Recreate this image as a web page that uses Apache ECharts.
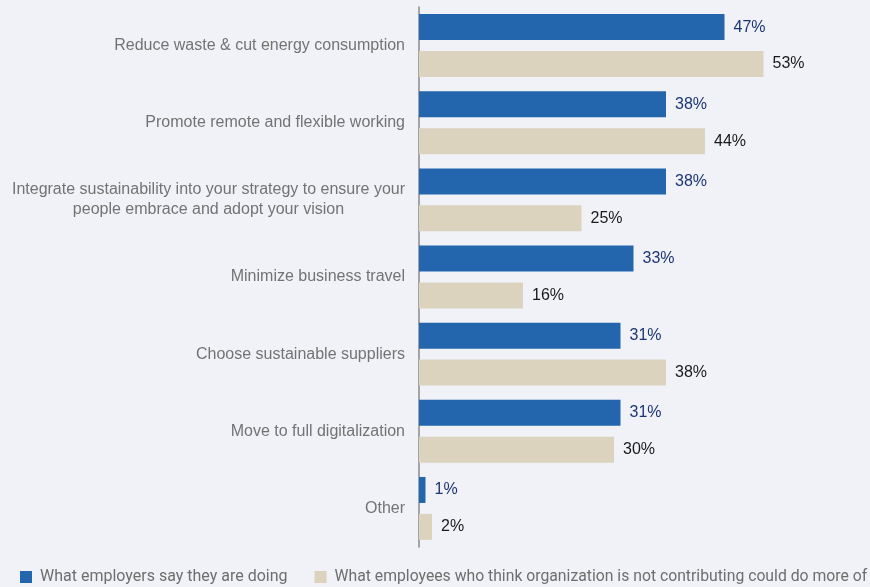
<!DOCTYPE html>
<html>
<head>
<meta charset="utf-8">
<script src="https://cdn.jsdelivr.net/npm/echarts@6/dist/echarts.min.js"></script>
<style>
  html, body { margin: 0; padding: 0; background: #f0f2f7; }
  #chart { width: 870px; height: 587px; }
</style>
</head>
<body>
<div id="chart"></div>
<script>
// Sustainability actions: employer vs. employee view (percent)
var categories = [
  'Reduce waste & cut energy consumption',
  'Promote remote and flexible working',
  'Integrate sustainability into your strategy to ensure your\npeople embrace and adopt your vision',
  'Minimize business travel',
  'Choose sustainable suppliers',
  'Move to full digitalization',
  'Other'
];
var employersDoing = [47, 38, 38, 33, 31, 31, 1];
var employeesWant = [53, 44, 25, 16, 38, 30, 2];
var seriesNames = [
  'What employers say they are doing',
  'What employees who think organization is not contributing could do more of'
];

var chart = echarts.init(document.getElementById('chart'));
chart.setOption({
  backgroundColor: '#f0f2f7',
  animation: false,
  textStyle: { fontFamily: 'Liberation Sans, Arial, sans-serif' },
  grid: { left: 419, top: 7, width: 390, height: 540 },
  legend: {
    left: 20, top: 569, width: 860, padding: 0,
    itemWidth: 12, itemHeight: 12, itemGap: 27,
    icon: 'rect',
    textStyle: { color: '#6e6e6e', fontSize: 16, fontFamily: 'Roboto, sans-serif', padding: [0, 0, 0, 3] },
    data: [
      { name: seriesNames[0] },
      { name: seriesNames[1], textStyle: { fontSize: 15.75 } }
    ]
  },
  xAxis: {
    type: 'value', min: 0, max: 60,
    show: false
  },
  yAxis: {
    type: 'category', inverse: true, data: categories,
    axisLine: { show: true, lineStyle: { color: '#8a8a8a', width: 1.5 } },
    axisTick: { show: false },
    axisLabel: {
      color: '#737373', fontSize: 16, margin: 14, lineHeight: 20,
      formatter: function (v) {
        // wrapped labels keep each line centred within the block
        if (v.indexOf('\n') < 0) return v;
        return v.split('\n').map(function (s) { return '{c|' + s + '}'; }).join('\n');
      },
      rich: {
        c: { width: 393, align: 'center', color: '#737373', fontSize: 16, lineHeight: 20 }
      }
    }
  },
  series: [
    {
      name: seriesNames[0], type: 'bar', data: employersDoing,
      barWidth: 26, barGap: '42%', barCategoryGap: '18%',
      itemStyle: { color: '#2366ad' },
      label: { show: true, position: 'right', distance: 9, color: '#1d3575', fontSize: 16, formatter: '{c}%' }
    },
    {
      name: seriesNames[1], type: 'bar', data: employeesWant,
      barWidth: 26,
      itemStyle: { color: '#dbd3be' },
      label: { show: true, position: 'right', distance: 9, color: '#1a1a1a', fontSize: 16, formatter: '{c}%' }
    }
  ]
});
</script>
</body>
</html>
